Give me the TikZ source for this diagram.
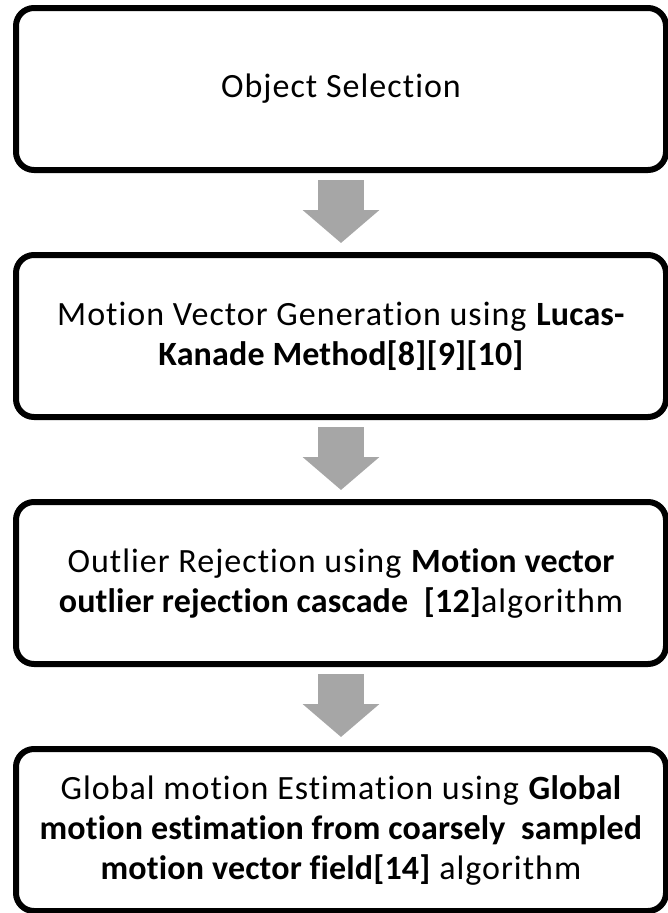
\documentclass[tikz,border=0pt]{standalone}
\usepackage{fontspec}
\setmainfont{Carlito}[Ligatures=CommonOff, LetterSpace=3, BoldFeatures={LetterSpace=0.5}]
\usepackage{tikz}
\usetikzlibrary{positioning, arrows.meta}
\definecolor{arrowgray}{HTML}{A6A6A6}

\begin{document}
\begin{tikzpicture}[x=1pt, y=1pt,
    stepbox/.style={draw, line width=6pt, rounded corners=18pt, minimum width=650pt,
      minimum height=162pt, align=center, inner sep=0pt,
      font=\fontsize{34}{40}\selectfont},
    flowarrow/.style={draw=arrowgray, line width=46pt, shorten <=7pt, shorten >=9pt,
      -{Triangle[width=75pt, length=33pt, fill=arrowgray]}}]
  \useasboundingbox (0,0) rectangle (668,-913);

  \node[stepbox] (Sel) at (341,-89) {Object Selection};
  \node[stepbox, below = 79pt of Sel] (MVG)
    {Motion Vector Generation using \textbf{Lucas-}\\ \textbf{Kanade Method[8][9][10]}};
  \node[stepbox, below = 79pt of MVG] (Rej)
    {Outlier Rejection using \textbf{Motion vector}\\ \textbf{outlier rejection cascade\ \ [12]}algorithm};
  \node[stepbox, below = 79pt of Rej] (GME)
    {Global motion Estimation using \textbf{Global}\\ \textbf{motion estimation from coarsely\ \ sampled}\\ \textbf{motion vector field[14]} algorithm};

  \draw[flowarrow] (Sel) -- (MVG);
  \draw[flowarrow] (MVG) -- (Rej);
  \draw[flowarrow] (Rej) -- (GME);
\end{tikzpicture}
\end{document}
